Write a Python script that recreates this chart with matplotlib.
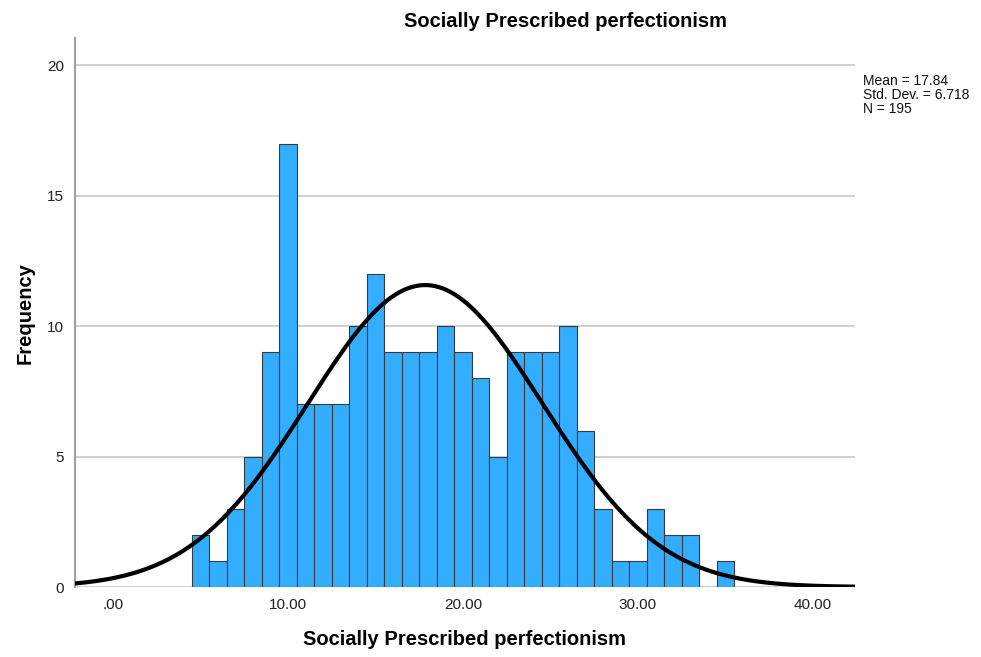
import numpy as np
import matplotlib.pyplot as plt

plt.rcParams['font.family'] = ['Liberation Sans', 'DejaVu Sans']

# bin centres and frequencies
bins = list(range(5, 36))
counts = [2, 1, 3, 5, 9, 17, 7, 7, 7, 10, 12, 9, 9, 9, 10, 9, 8, 5, 9, 9, 9, 10,
          6, 3, 1, 1, 3, 2, 2, 0, 1]
mean, sd, n = 17.84, 6.718, 195
xticks = [0, 10, 20, 30, 40]
xtick_labels = ['.00', '10.00', '20.00', '30.00', '40.00']
yticks = [0, 5, 10, 15, 20]

fig = plt.figure(figsize=(9.81, 6.57), dpi=100)
ax = fig.add_axes([0.0765, 0.1065, 0.795, 0.8355])

ax.bar(bins, counts, width=1.0, color='#33adff', edgecolor='#3a3a3a', linewidth=0.8, zorder=2)

x = np.linspace(-2.2, 42.5, 400)
y = n * 1.0 / (sd * np.sqrt(2 * np.pi)) * np.exp(-0.5 * ((x - mean) / sd) ** 2)
ax.plot(x, y, color='black', linewidth=3, zorder=3)

ax.set_xlim(-2.17, 42.4)
ax.set_ylim(0, 21.05)
ax.set_xticks(xticks)
ax.set_xticklabels(xtick_labels)
ax.set_yticks(yticks)
ax.yaxis.grid(True, color='#c8c8c8', linewidth=1.2, zorder=0)
ax.set_axisbelow(True)
ax.tick_params(length=0, labelsize=11, colors='#222222', pad=8)

for s in ['top', 'right', 'bottom']:
    ax.spines[s].set_visible(False)
ax.spines['left'].set_color('#a0a0a0')
ax.spines['left'].set_linewidth(1.5)

# title is centred over the whole chart area (including the stats box)
fig.text(0.576, 0.967, 'Socially Prescribed perfectionism', fontsize=14.5,
         fontweight='bold', ha='center', va='center')
ax.set_xlabel('Socially Prescribed perfectionism', fontsize=14.5, fontweight='bold', labelpad=13)
ax.set_ylabel('Frequency', fontsize=14.5, fontweight='bold', labelpad=9)

fig.text(0.88, 0.887, 'Mean = 17.84\nStd. Dev. = 6.718\nN = 195', fontsize=10,
         va='top', ha='left', linespacing=1.0, color='#111111')

fig.savefig('out.png', dpi=100)
